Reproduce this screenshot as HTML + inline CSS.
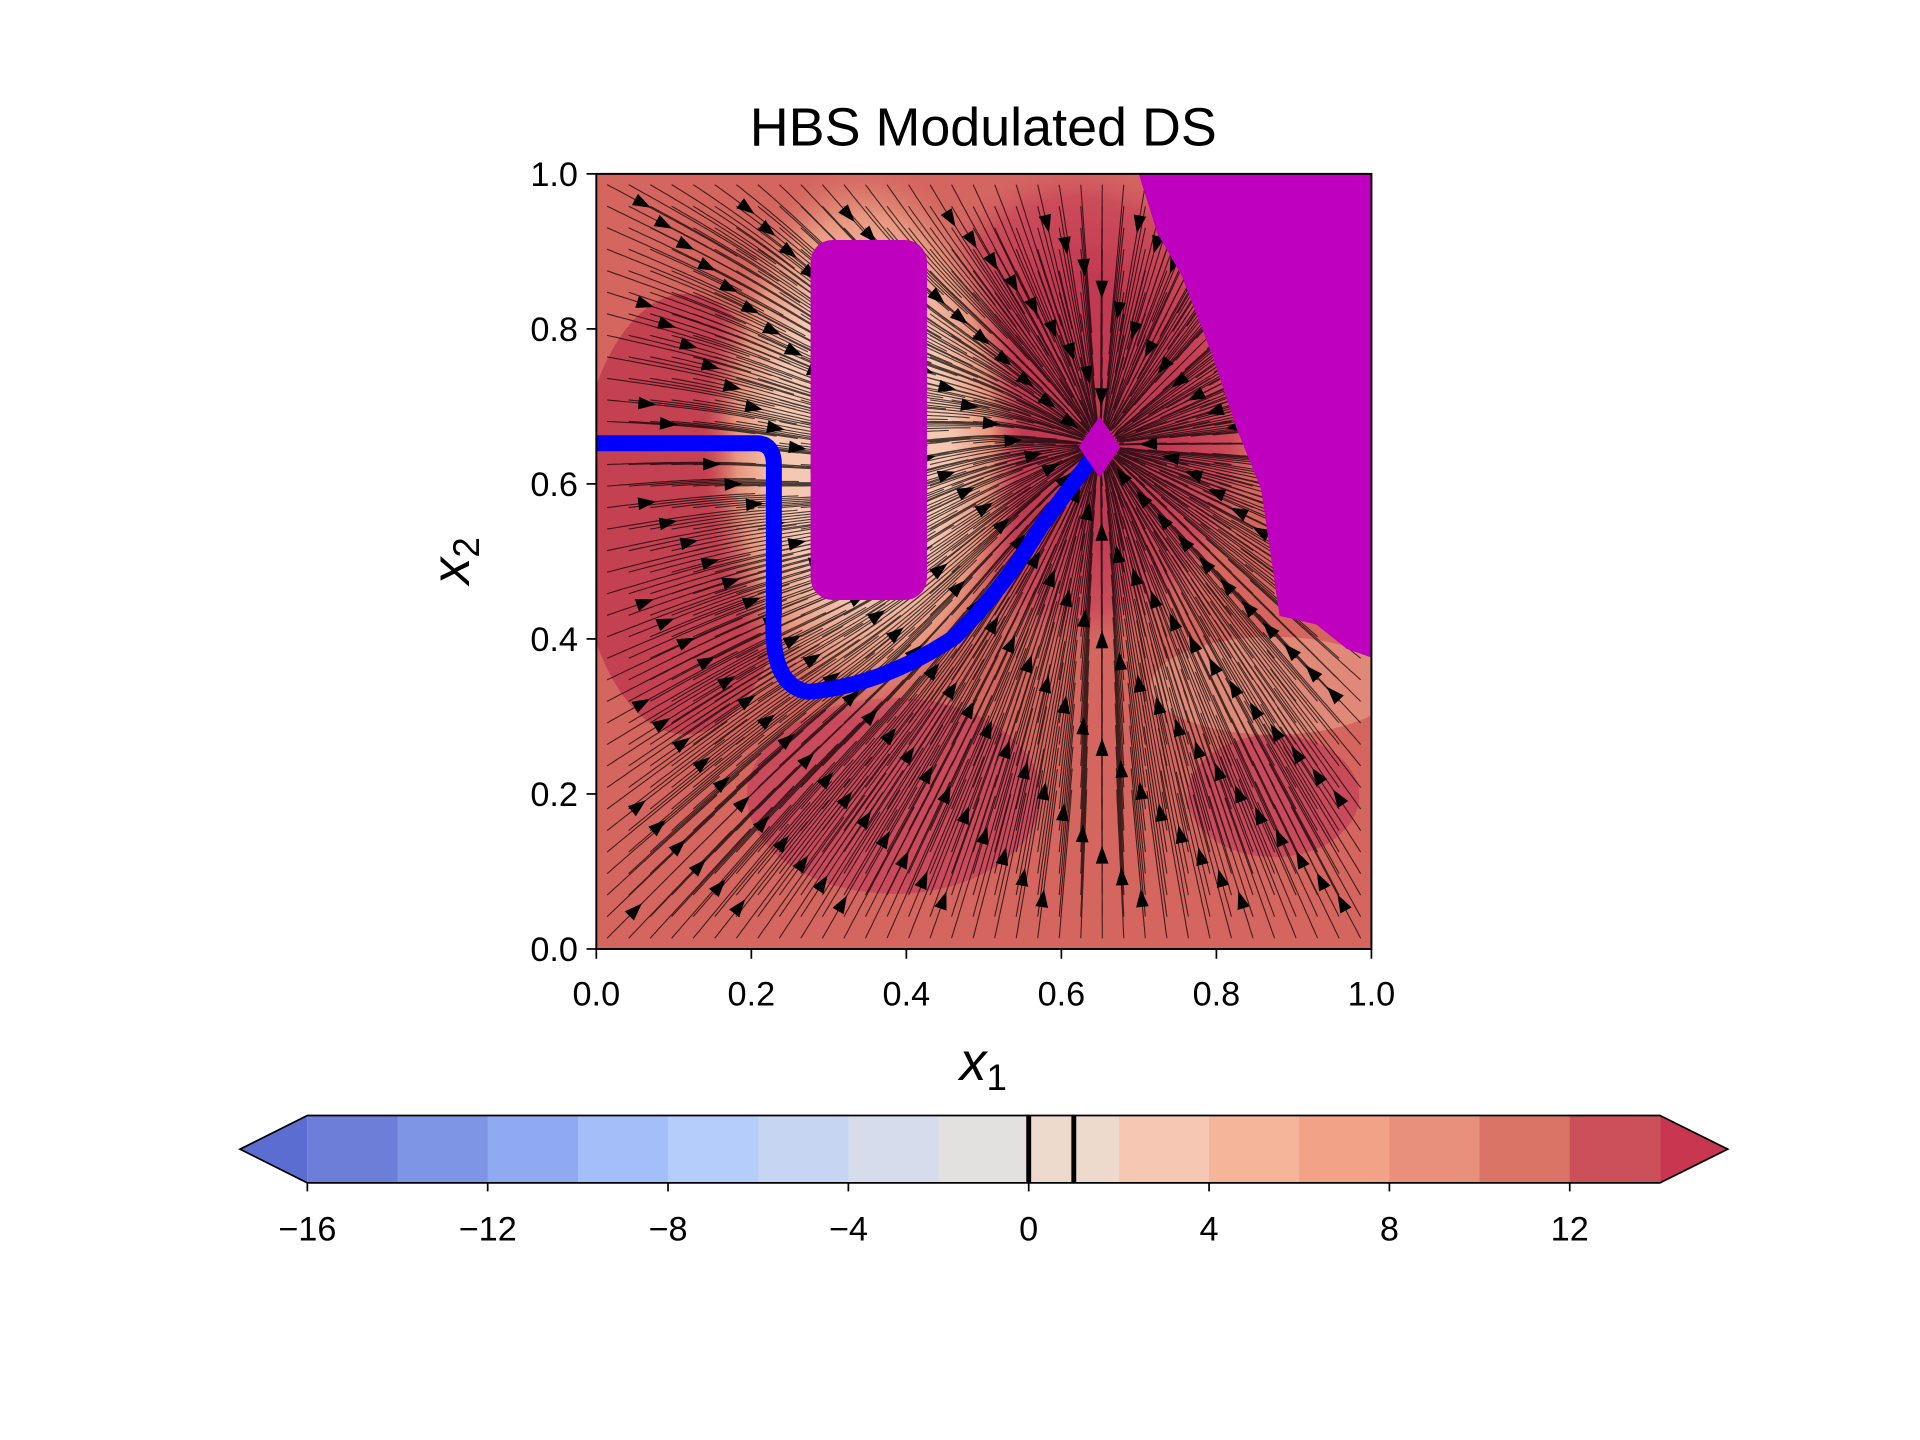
<!DOCTYPE html>
<html><head><meta charset="utf-8"><style>
html,body{margin:0;padding:0;background:#fff;}
svg{display:block;font-family:"Liberation Sans","DejaVu Sans",sans-serif;}
</style></head><body>
<svg id="fig" width="1920" height="1440" viewBox="0 0 1568 1176" xmlns="http://www.w3.org/2000/svg">
<defs>
<clipPath id="pc"><rect x="487" y="142" width="633" height="633"/></clipPath>
<radialGradient id="ringObs" cx="0.5" cy="0.5" r="0.5">
<stop offset="0.55" stop-color="#f5c8b2"/><stop offset="0.8" stop-color="#e8967f"/><stop offset="1" stop-color="#d46a64" stop-opacity="0"/>
</radialGradient>
<radialGradient id="ringAtt" cx="0.5" cy="0.5" r="0.5">
<stop offset="0.5" stop-color="#c23a52"/><stop offset="0.8" stop-color="#cc4c5a"/><stop offset="1" stop-color="#d8706a" stop-opacity="0"/>
</radialGradient>
</defs>
<text x="803" y="119" font-size="44" text-anchor="middle">HBS Modulated DS</text>
<g id="plot" clip-path="url(#pc)">
<rect x="487" y="142" width="633" height="633" fill="#d4665f"/>
<ellipse cx="560" cy="420" rx="90" ry="180" fill="#c23d50" opacity="0.9"/>
<ellipse cx="880" cy="330" rx="160" ry="210" fill="url(#ringAtt)"/>
<ellipse cx="730" cy="650" rx="120" ry="80" fill="#c6435a" opacity="0.8"/>
<ellipse cx="1040" cy="650" rx="70" ry="50" fill="#c6435a" opacity="0.8"/>
<ellipse cx="705" cy="360" rx="130" ry="230" fill="url(#ringObs)"/>
<ellipse cx="1040" cy="560" rx="100" ry="40" fill="#e8a08a" opacity="0.6"/>
<g id="streams"></g>
</g>
<g id="obstacles" clip-path="url(#pc)">
<rect x="662" y="196" width="95" height="294" rx="18" fill="#bf00bf"/>
<polygon points="930,142 1120,142 1120,537 1100,530 1075,510 1045,503 1030,400 1010,350 990,290 965,225 945,190" fill="#bf00bf"/>
<path d="M487,362 L618,362 Q632,362 632,380 L632,500 Q628,560 660,565 Q720,560 780,520 Q820,480 850,430 L895,370" fill="none" stroke="#0000ff" stroke-width="13" stroke-linejoin="round"/>
<polygon points="898,340 915,365 898,390 881,365" fill="#bf00bf"/>
</g>
<rect x="487" y="142" width="633" height="633" fill="none" stroke="#000" stroke-width="1.6"/>
<g id="axes" font-size="28"></g>
<text x="803" y="882" font-size="44" font-style="italic" text-anchor="middle">x<tspan font-size="30" dy="8" font-style="normal">1</tspan></text>
<text transform="translate(383,458) rotate(-90)" font-size="44" font-style="italic" text-anchor="middle">x<tspan font-size="30" dy="8" font-style="normal">2</tspan></text>
<g id="cbar"></g>
</svg>
<script>
const NS="http://www.w3.org/2000/svg";
const xTicks=[0,0.2,0.4,0.6,0.8,1.0];
const yTicks=[0,0.2,0.4,0.6,0.8,1.0];
const levels=[-16,-14,-12,-10,-8,-6,-4,-2,0,2,4,6,8,10,12,14];
const levelColors=["#6c7ed8","#7e95e6","#90aaf1","#a3bef9","#b5cdfa","#c6d6f2","#d6dceb","#e3e1df","#eddacd","#f6c8b4","#f5b59b","#f2a287","#e8907c","#da7467","#cb5059"];
const cbTicks=[-16,-12,-8,-4,0,4,8,12];
const contourLines=[0,1];
const attractor=[0.65,0.65];
const X0=487,X1=1120,Y0=775,Y1=142;
const sx=v=>X0+v*(X1-X0), sy=v=>Y0-v*(Y0-Y1);
function mk(t,a,p){const e=document.createElementNS(NS,t);for(const k in a)e.setAttribute(k,a[k]);(p||null)&&p.appendChild(e);return e;}
const axes=document.getElementById('axes');
xTicks.forEach(t=>{
 const l=mk('line',{x1:sx(t),x2:sx(t),y1:775,y2:783,stroke:'#000','stroke-width':1.4},axes);
 
 
 const tx=mk('text',{x:sx(t),y:821,'text-anchor':'middle'},axes);tx.textContent=t.toFixed(1);
 
 
});
yTicks.forEach(t=>{
 const l=mk('line',{x1:479,x2:487,y1:sy(t),y2:sy(t),stroke:'#000','stroke-width':1.4},axes);
 
 
 const tx=mk('text',{x:472,y:sy(t)+10,'text-anchor':'end'},axes);tx.textContent=t.toFixed(1);
 
 
});
const cb=document.getElementById('cbar');
const C0=251,C1=1355.6,CT=911,CB=966;
const cx=v=>C0+(v-levels[0])*(C1-C0)/(levels[levels.length-1]-levels[0]);
mk('polygon',{points:`196,938.5 ${C0},${CT} ${C0},${CB}`,fill:'#5b6dd0'},cb);
mk('polygon',{points:`1411,938.5 ${C1},${CT} ${C1},${CB}`,fill:'#c8364f'},cb);
for(let i=0;i<levels.length-1;i++){
 const r=mk('rect',{x:cx(levels[i]),y:CT,width:cx(levels[i+1])-cx(levels[i])+0.5,height:CB-CT,fill:levelColors[i]},cb);
 
 
}
contourLines.forEach(v=>{const l=mk('line',{x1:cx(v),x2:cx(v),y1:CT,y2:CB,stroke:'#000','stroke-width':4},cb);
 
 });
mk('polygon',{points:`196,938.5 ${C0},${CT} ${C1},${CT} 1411,938.5 ${C1},${CB} ${C0},${CB}`,fill:'none',stroke:'#000','stroke-width':1.4},cb);
cbTicks.forEach(t=>{
 mk('line',{x1:cx(t),x2:cx(t),y1:CB,y2:CB+7,stroke:'#000','stroke-width':1.4},cb);
 const tx=mk('text',{x:cx(t),y:1013,'text-anchor':'middle','font-size':28},cb);
 tx.textContent=t<0?'\u2212'+Math.abs(t):String(t);
 
 
});
const st=document.getElementById('streams');
function field(x,y){
 let dx=attractor[0]-x,dy=attractor[1]-y;let n=Math.hypot(dx,dy)+1e-6;dx/=n;dy/=n;
 const ox=x-0.35,oy=(y-0.68)/2.2;const r2=ox*ox+oy*oy;const w=Math.exp(-r2/0.02)*2.2;
 dx+=(-oy)*w; dy+=ox*w;
 n=Math.hypot(dx,dy)+1e-6;return [dx/n,dy/n];
}
let d='';const arrows=[];
const G=36;
for(let i=0;i<G;i++)for(let j=0;j<G;j++){
 let x=(i+0.5)/G,y=(j+0.5)/G;let pts=[[x,y]];
 for(let k=0;k<32;k++){const f=field(x,y);x+=f[0]*0.006;y+=f[1]*0.006;if(x<0||x>1||y<0||y>1)break;if(Math.hypot(x-attractor[0],y-attractor[1])<0.02)break;pts.push([x,y]);}
 d+='M'+pts.map(p=>sx(p[0]).toFixed(1)+','+sy(p[1]).toFixed(1)).join('L');
 if((i+j)%5===0&&pts.length>12){const p=pts[6],q=pts[8];arrows.push([p,q]);}
}
const sp=mk('path',{d:d,fill:'none',stroke:'#000','stroke-width':0.9,opacity:0.7},st);


arrows.forEach(([p,q])=>{
 const a=Math.atan2(-(q[1]-p[1]),q[0]-p[0]);const X=sx(q[0]),Y=sy(q[1]);
 const pt=[[X+10*Math.cos(a),Y+10*Math.sin(a)],[X+7*Math.cos(a+2.3),Y+7*Math.sin(a+2.3)],[X+7*Math.cos(a-2.3),Y+7*Math.sin(a-2.3)]];
 const t=mk('polygon',{points:pt.map(v=>v[0].toFixed(1)+','+v[1].toFixed(1)).join(' '),fill:'#000'},st);
 
 
});
</script>
</body></html>
